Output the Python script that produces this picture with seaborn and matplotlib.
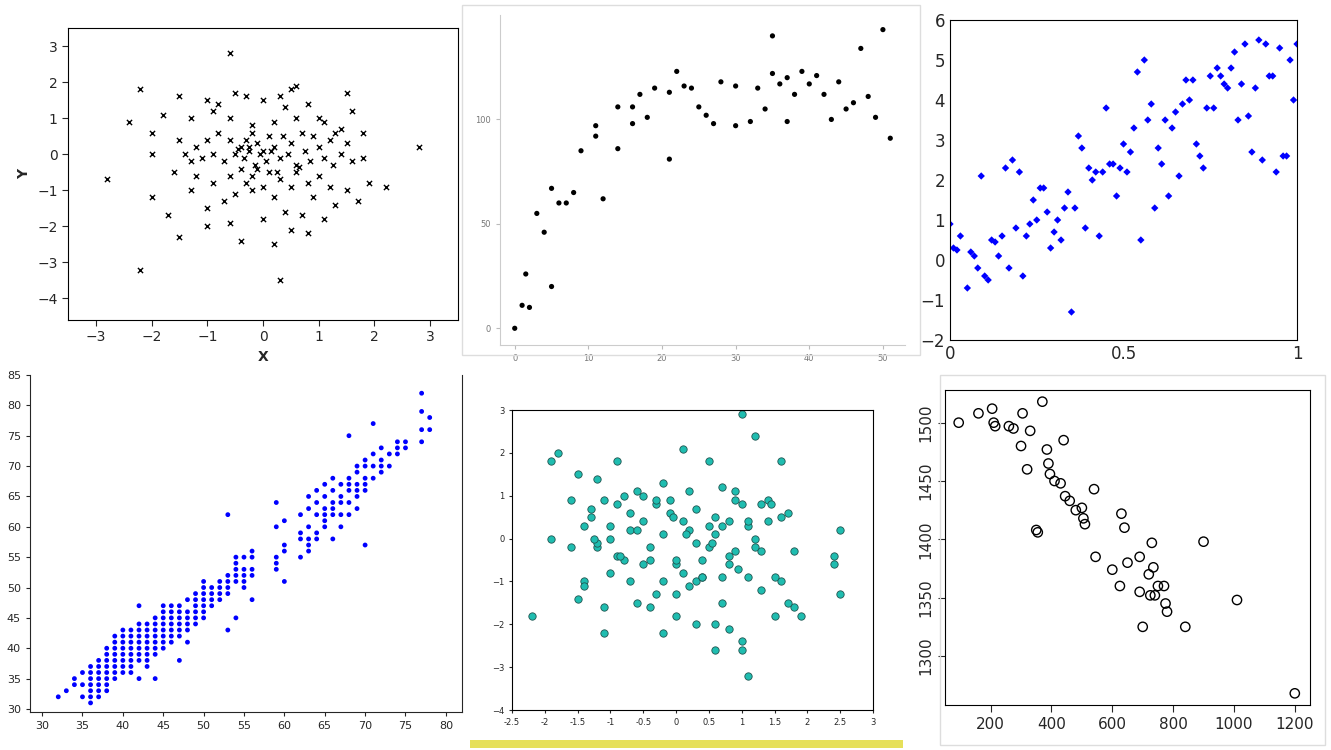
import matplotlib
matplotlib.use("Agg")
import matplotlib.pyplot as plt
import seaborn as sns
import pandas as pd

sns.set_style("white")
plt.rcParams["font.family"] = ["DejaVu Sans"]

# panel 1: normal cloud, x markers
p1_x = [-0.6, 0.6, 0.5, -2.2, -1.5, -1, -0.8, -0.5, -0.3, 0, 0.3, 0.4, 0.8, 1.5, 1.6, -1.8, -2.4, -1.3, -0.9, -0.6,
        -0.2, 0.2, 0.6, 1.0, 1.1, 1.3, 1.4, 1.8, -2, -1.5, -1.2, -1.0, -0.8, -0.6, -0.4, -0.3, -0.2, -0.1, 0, 0.1,
        0.2, 0.35, 0.5, 0.7, 0.9, 1.2, 1.5, 2.8, -2.0, -1.4, -1.3, -1.1, -0.9, -0.7, -0.5, -0.35, -0.25, -0.15, -0.05, 0.05,
        0.15, 0.3, 0.45, 0.6, 0.75, 0.85, 1.0, 1.1, 1.25, 1.4, 1.6, 1.8, 2.2, -2.8, -1.6, -1.2, -0.9, -0.6, -0.4, -0.3,
        -0.2, 0, 0.1, 0.3, 0.5, 0.6, 0.8, 1.0, 1.2, 1.5, 1.7, 1.9, -2, -1.3, -1.0, -0.7, -0.5, -0.2, 0.2, 0.4,
        0.7, 0.9, 1.3, -1.5, -1.0, -0.6, -0.4, 0.0, 0.5, 0.8, 0.2, -2.2, 0.3, -1.7, 1.1, -0.25, -0.1, 0.25, -0.45, 0.65]
p1_y = [2.8, 1.9, 1.8, 1.8, 1.6, 1.5, 1.4, 1.7, 1.6, 1.5, 1.6, 1.3, 1.4, 1.7, 1.2, 1.1, 0.9, 1.0, 1.2, 1.0,
        0.8, 0.9, 1.0, 1.0, 0.9, 0.6, 0.7, 0.6, 0.6, 0.4, 0.2, 0.4, 0.6, 0.4, 0.2, 0.4, 0.6, 0.3, 0.1, 0.5,
        0.2, 0.5, 0.3, 0.6, 0.5, 0.4, 0.3, 0.2, 0.0, 0.0, -0.2, -0.1, 0.0, -0.2, 0.0, -0.1, 0.1, -0.3, 0.0, -0.2,
        0.1, -0.1, 0.0, -0.3, 0.1, -0.2, 0.2, -0.1, -0.3, 0.0, -0.2, -0.1, -0.9, -0.7, -0.5, -0.6, -0.8, -0.6, -0.4, -0.8,
        -0.6, -0.9, -0.5, -0.7, -0.9, -0.5, -0.8, -0.6, -0.9, -1.0, -1.3, -0.8, -1.2, -1.0, -1.5, -1.3, -1.1, -1.0, -1.2, -1.6,
        -1.7, -1.2, -1.4, -2.3, -2.0, -1.9, -2.4, -1.8, -2.1, -2.2, -2.5, -3.2, -3.5, -1.7, -1.8, 0.2, -0.4, -0.5, 0.15, -0.35]

# panel 2: saturating growth
p2_x = [0, 1, 1.5, 2, 3, 4, 5, 5, 6, 7, 8, 9, 11, 11, 12, 14, 14, 16, 16, 17, 18, 19, 21, 21, 22, 23, 24, 25,
        26, 27, 28, 30, 30, 32, 33, 34, 35, 35, 36, 37, 37, 38, 39, 40, 41, 42, 43, 44, 45, 46, 47, 48, 49, 50, 51]
p2_y = [0, 11, 26, 10, 55, 46, 20, 67, 60, 60, 65, 85, 92, 97, 62, 86, 106, 98, 106, 112, 101, 115, 81, 113, 123, 116, 115, 106,
        102, 98, 118, 97, 116, 99, 115, 105, 122, 140, 117, 120, 99, 112, 123, 117, 121, 112, 100, 118, 105, 108, 134, 111, 101, 143, 91]

# panel 3: noisy upward trend, blue diamonds
p3_x = [0.0, 0.01, 0.02, 0.03, 0.05, 0.06, 0.07, 0.08, 0.09, 0.1, 0.11, 0.12, 0.13, 0.14, 0.15, 0.16, 0.17, 0.18, 0.19, 0.2,
        0.21, 0.22, 0.23, 0.24, 0.25, 0.26, 0.27, 0.28, 0.29, 0.3, 0.31, 0.32, 0.33, 0.34, 0.35, 0.36, 0.37, 0.38, 0.39, 0.4,
        0.41, 0.42, 0.43, 0.44, 0.45, 0.46, 0.47, 0.48, 0.49, 0.5, 0.51, 0.52, 0.53, 0.54, 0.55, 0.56, 0.57, 0.58, 0.59, 0.6,
        0.61, 0.62, 0.63, 0.64, 0.65, 0.66, 0.67, 0.68, 0.69, 0.7, 0.71, 0.72, 0.73, 0.74, 0.75, 0.76, 0.77, 0.78, 0.79, 0.8,
        0.81, 0.82, 0.83, 0.84, 0.85, 0.86, 0.87, 0.88, 0.89, 0.9, 0.91, 0.92, 0.93, 0.94, 0.95, 0.96, 0.97, 0.98, 0.99, 1.0]
p3_y = [0.9, 0.3, 0.25, 0.6, -0.7, 0.2, 0.1, -0.2, 2.1, -0.4, -0.5, 0.5, 0.45, 0.1, 0.6, 2.3, -0.2, 2.5, 0.8, 2.2,
        -0.4, 0.6, 0.9, 1.5, 1.0, 1.8, 1.8, 1.2, 0.3, 0.7, 1.0, 0.5, 1.3, 1.7, -1.3, 1.3, 3.1, 2.8, 0.8, 2.3,
        2.0, 2.2, 0.6, 2.2, 3.8, 2.4, 2.4, 1.6, 2.3, 2.9, 2.2, 2.7, 3.3, 4.7, 0.5, 5.0, 3.5, 3.9, 1.3, 2.8,
        2.4, 3.5, 1.6, 3.3, 3.7, 2.1, 3.9, 4.5, 4.0, 4.5, 2.9, 2.6, 2.3, 3.8, 4.6, 3.8, 4.8, 4.6, 4.4, 4.3,
        4.8, 5.2, 3.5, 4.4, 5.4, 3.6, 2.7, 4.3, 5.5, 2.5, 5.4, 4.6, 4.6, 2.2, 5.3, 2.6, 2.6, 5.0, 4.0, 5.4]

# panel 4: integer grid, strong linear relation
p4_cols = {32: [32], 33: [33], 34: [35, 34], 35: [32, 34, 36], 36: [31, 32, 33, 34, 35, 36, 37], 37: [32, 33, 34, 35, 36, 37, 38],
           38: [33, 34, 35, 36, 37, 38, 39, 40], 39: [35, 36, 37, 38, 39, 40, 41, 42], 40: [36, 37, 38, 39, 40, 41, 42, 43],
           41: [36, 37, 38, 39, 40, 41, 42, 43], 42: [35, 38, 39, 40, 41, 42, 43, 44, 47], 43: [37, 38, 39, 40, 41, 42, 43, 44],
           44: [35, 39, 40, 41, 42, 43, 44, 45], 45: [40, 41, 42, 43, 44, 45, 46, 47], 46: [41, 42, 43, 44, 45, 46, 47],
           47: [38, 42, 43, 44, 45, 46, 47], 48: [41, 43, 44, 45, 46, 48], 49: [44, 45, 46, 47, 48, 49],
           50: [45, 46, 47, 48, 49, 50, 51], 51: [47, 48, 49, 50], 52: [48, 49, 50, 51], 53: [43, 49, 50, 51, 52, 62],
           54: [45, 51, 52, 53, 54, 55], 55: [50, 51, 52, 53, 55], 56: [48, 52, 53, 55, 56], 59: [53, 54, 55, 60, 64],
           60: [51, 56, 57, 61], 62: [55, 58, 59, 62], 63: [56, 57, 58, 60, 63, 65], 64: [58, 59, 62, 64, 66],
           65: [60, 61, 62, 63, 65, 67], 66: [58, 62, 63, 64, 66, 68], 67: [60, 62, 64, 65, 67], 68: [62, 64, 66, 67, 68, 75],
           69: [63, 65, 66, 67, 69, 70], 70: [57, 66, 67, 68, 70, 71], 71: [68, 70, 72, 77], 72: [69, 70, 71, 73],
           73: [70, 72], 74: [72, 73, 74], 75: [73, 74], 77: [74, 76, 79, 82], 78: [76, 78]}
p4_x = [x for x, ys in p4_cols.items() for _ in ys]
p4_y = [y for ys in p4_cols.values() for y in ys]

# panel 5: uncorrelated cloud, teal circles
p5_x = [-2.2, -1.9, -1.8, -1.6, -1.5, -1.4, -1.3, -1.2, -1.1, -1.0, -0.9, -0.8, -0.7, -0.6, -0.5, -0.4, -0.3, -0.2, -0.1, 0.0,
        0.1, 0.2, 0.3, 0.4, 0.5, 0.6, 0.7, 0.8, 0.9, 1.0, 1.1, 1.2, 1.3, 1.4, 1.5, 1.6, 1.7, 1.8, 1.9, 2.4,
        -1.9, -1.5, -1.4, -1.2, -1.0, -0.9, -0.7, -0.5, -0.3, -0.2, 0.0, 0.1, 0.3, 0.5, 0.7, 0.8, 1.0, 1.2, 1.4, 1.6,
        -1.6, -1.3, -1.1, -0.9, -0.6, -0.4, -0.2, 0.0, 0.2, 0.4, 0.6, 0.8, 1.0, 1.3, 1.5, 1.8, 2.5, 2.4, -1.0, 0.6,
        -1.4, -1.2, -0.8, -0.6, -0.3, -0.1, 0.1, 0.3, 0.5, 0.7, 0.9, 1.1, 1.3, 1.7, 2.5, -0.5, 0.2, 0.9, 1.0, 1.1,
        -0.7, -0.4, 0.0, 0.4, 0.6, 0.8, 1.2, 1.6, -1.1, -0.2, 0.3, 0.7, 1.1, 0.15, -0.85, 0.55, 1.45, -0.05, -1.25, 0.95]
p5_y = [-1.8, 1.8, 2.0, 0.9, 1.5, -1.0, 0.5, 1.4, -2.2, 0.3, 1.8, 1.0, 0.6, 1.1, 0.4, -0.2, 0.8, 1.3, 0.9, -0.6,
        2.1, 0.2, 0.7, -0.5, 1.8, 0.5, 1.2, 0.4, -0.3, 2.9, -0.9, 2.4, 0.8, 0.4, -0.9, 1.8, 0.6, -0.3, -1.8, -0.4,
        0.0, -1.4, 0.3, -0.2, 0.0, -0.4, 0.2, -0.6, 0.9, 0.1, -0.5, 0.4, -1.0, 0.3, -0.9, -0.6, 0.8, -0.2, 0.9, 0.5,
        -0.2, 0.7, -1.6, 0.8, -1.5, -0.5, -1.0, -1.3, -1.1, -0.9, -2.0, -0.4, -2.4, -1.2, -1.8, -1.6, -1.3, -0.6, -0.8, 0.1,
        -1.1, -0.1, -0.5, 0.2, -1.3, 0.6, -0.8, -0.1, -0.2, -1.5, 1.1, 0.3, -0.3, -1.5, 0.2, 1.0, 1.1, 0.9, -2.6, -3.2,
        -1.0, -1.6, -1.8, -0.9, -2.6, -2.1, 0.0, -1.0, 0.9, -2.2, -2.0, 0.3, 0.4, 0.1, -0.4, -0.1, 0.8, 0.5, 0.0, -0.7]

# panel 6: downward trend, open circles
p6_x = [95, 160, 205, 210, 215, 260, 275, 300, 305, 320, 330, 350, 355, 370, 385, 390, 395, 410, 430, 440, 445, 460, 480, 500,
        505, 510, 540, 545, 600, 625, 630, 640, 650, 690, 690, 700, 720, 725, 730, 735, 740, 750, 770, 775, 780, 840, 900, 1010, 1200]
p6_y = [1500, 1508, 1512, 1500, 1497, 1497, 1495, 1480, 1508, 1460, 1493, 1408, 1406, 1518, 1477, 1465, 1456, 1450, 1448, 1485,
        1437, 1433, 1425, 1427, 1418, 1413, 1443, 1385, 1374, 1360, 1422, 1410, 1380, 1385, 1355, 1325, 1370, 1352, 1397, 1376,
        1352, 1360, 1360, 1345, 1338, 1325, 1398, 1348, 1268]

W, H = 1331, 750
fig = plt.figure(figsize=(W / 100, H / 100), dpi=100)


def add_ax(x0, y0, x1, y1):
    return fig.add_axes([x0 / W, 1 - y1 / H, (x1 - x0) / W, (y1 - y0) / H])


# panel outlines
for (x0, y0, x1, y1) in [(462, 5, 920, 355), (940, 375, 1325, 745)]:
    fig.patches.append(plt.Rectangle((x0 / W, 1 - y1 / H), (x1 - x0) / W, (y1 - y0) / H,
                                     transform=fig.transFigure, fill=False, ec="#dddddd", lw=1))
fig.patches.append(plt.Rectangle((470 / W, 1 - 748 / H), 433 / W, 8 / H, transform=fig.transFigure,
                                 color="#e6e05a", lw=0))

ax1 = add_ax(68, 28, 458, 320)
sns.scatterplot(x=p1_x, y=p1_y, marker="x", color="black", s=14, linewidth=1, ax=ax1)
ax1.set_xlim(-3.5, 3.5)
ax1.set_ylim(-4.6, 3.5)
ax1.set_xticks(range(-3, 4))
ax1.set_yticks(range(-4, 4))
ax1.set_xlabel("X", fontweight="bold")
ax1.set_ylabel("Y", fontweight="bold")
ax1.tick_params(length=4, bottom=True, left=True, labelsize=10)

ax2 = add_ax(500, 15, 905, 345)
sns.scatterplot(x=p2_x, y=p2_y, color="black", s=14, edgecolor="none", ax=ax2)
ax2.set_xlim(-2, 53)
ax2.set_ylim(-8, 150)
ax2.set_xticks([0, 10, 20, 30, 40, 50])
ax2.set_yticks([0, 50, 100])
ax2.tick_params(labelsize=6, labelcolor="#777777", color="#bbbbbb", length=3, bottom=True, left=True)
for s in ["top", "right"]:
    ax2.spines[s].set_visible(False)
for s in ["left", "bottom"]:
    ax2.spines[s].set_color("#cccccc")

ax3 = add_ax(950, 20, 1297, 340)
sns.scatterplot(x=p3_x, y=p3_y, marker="D", color="blue", s=14, edgecolor="none", ax=ax3)
ax3.set_xlim(0, 1)
ax3.set_ylim(-2, 6)
ax3.set_xticks([0, 0.5, 1])
ax3.set_xticklabels(["0", "0.5", "1"])
ax3.tick_params(labelsize=12, length=0)

ax4 = add_ax(30, 375, 462, 712)
sns.scatterplot(x=p4_x, y=p4_y, color="blue", s=12, edgecolor="none", ax=ax4)
ax4.set_xlim(28.5, 82)
ax4.set_ylim(29.5, 85)
ax4.set_xticks(range(30, 81, 5))
ax4.set_yticks(range(30, 86, 5))
ax4.tick_params(labelsize=8, length=3, bottom=True, left=True)
for s in ["top"]:
    ax4.spines[s].set_visible(False)

ax5 = add_ax(512, 410, 873, 710)
sns.scatterplot(x=p5_x, y=p5_y, color="#1fbdb0", edgecolor="#1f5550", linewidth=0.6, s=28, ax=ax5)
ax5.set_xlim(-2.5, 3)
ax5.set_ylim(-4, 3)
ax5.set_xticks([-2.5, -2, -1.5, -1, -0.5, 0, 0.5, 1, 1.5, 2, 2.5, 3])
ax5.set_xticklabels(["-2.5", "-2", "-1.5", "-1", "-0.5", "0", "0.5", "1", "1.5", "2", "2.5", "3"])
ax5.set_yticks(range(-4, 4))
ax5.tick_params(labelsize=6, length=2, bottom=True, left=True)

ax6 = add_ax(945, 390, 1310, 705)
sns.scatterplot(x=p6_x, y=p6_y, facecolor="none", edgecolor="black", linewidth=1, s=45, ax=ax6)
ax6.set_xlim(50, 1250)
ax6.set_ylim(1258, 1528)
ax6.set_xticks([200, 400, 600, 800, 1000, 1200])
ax6.set_yticks([1300, 1350, 1400, 1450, 1500])
ax6.tick_params(labelsize=11, length=5, bottom=True, left=True)
for lbl in ax6.get_yticklabels():
    lbl.set_rotation(90)
    lbl.set_va("center")

for ax in [ax1, ax3, ax5, ax6]:
    for s in ax.spines.values():
        s.set_color("black")

fig.savefig("out.png", dpi=100)
